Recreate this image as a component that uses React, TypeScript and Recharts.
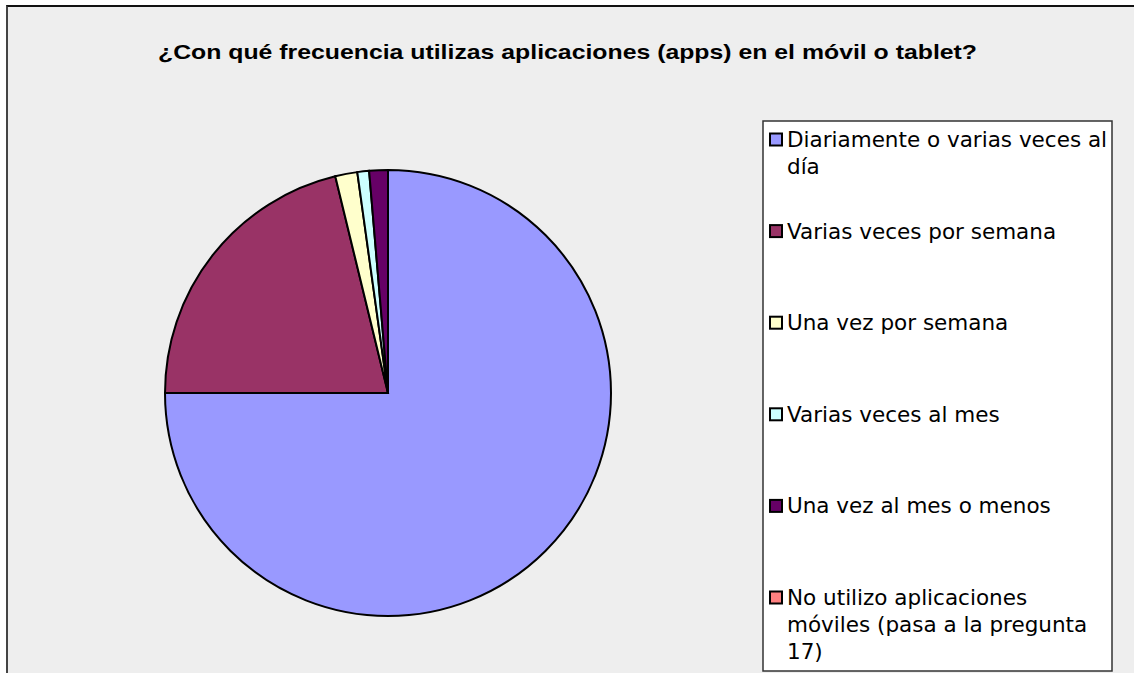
import React from 'react';
import { PieChart, Pie, Cell, Legend } from 'recharts';

const title = '¿Con qué frecuencia utilizas aplicaciones (apps) en el móvil o tablet?';
const categories = [
  'Diariamente o varias veces al día',
  'Varias veces por semana',
  'Una vez por semana',
  'Varias veces al mes',
  'Una vez al mes o menos',
  'No utilizo aplicaciones móviles (pasa a la pregunta 17)',
];
const values = [75, 21.2, 1.6, 0.85, 1.35, 0];
const colors = ['#9999FF', '#993366', '#FFFFCC', '#CCFFFF', '#660066', '#FF8080'];
const legendLines = [
  ['Diariamente o varias veces al', 'día'],
  ['Varias veces por semana'],
  ['Una vez por semana'],
  ['Varias veces al mes'],
  ['Una vez al mes o menos'],
  ['No utilizo aplicaciones', 'móviles (pasa a la pregunta', '17)'],
];

const data = categories.map((name, i) => ({ name, value: values[i] }));

const LegendBox = () => (
  <svg width={352} height={553} style={{ display: 'block' }}>
    <rect x={1} y={1} width={349} height={550} fill="#FFFFFF" stroke="#333333" strokeWidth={1.5} />
    {legendLines.map((lines, i) => {
      const base = 27 + i * 91.6;
      return (
        <g key={i}>
          <rect x={8} y={base - 13.5} width={12} height={12} fill={colors[i]} stroke="#000" strokeWidth={2} />
          {lines.map((ln, j) => (
            <text
              key={j}
              x={25}
              y={base + j * 27}
              fontFamily="DejaVu Sans"
              fontSize={21.5}
              fill="#000"
            >
              {ln}
            </text>
          ))}
        </g>
      );
    })}
  </svg>
);

export default function App() {
  return (
    <div style={{ position: 'absolute', left: 0, top: 0, width: 1134, height: 673, background: '#FFFFFF', overflow: 'hidden' }}>
      <div
        style={{
          position: 'absolute',
          left: 6,
          top: 5,
          width: 1140,
          height: 680,
          background: '#EEEEEE',
          borderTop: '2px solid #111111',
          borderLeft: '2px solid #444444',
        }}
      />
      <svg width={1134} height={80} style={{ position: 'absolute', left: 0, top: 0 }}>
        <text
          x={158}
          y={59}
          fontFamily="Liberation Sans"
          fontWeight="bold"
          fontSize={20.5}
          textLength={819}
          lengthAdjust="spacingAndGlyphs"
          fill="#000"
        >
          {title}
        </text>
      </svg>
      <div style={{ position: 'absolute', left: 0, top: 0 }}>
        <PieChart width={1134} height={673} margin={{ top: 0, right: 0, bottom: 0, left: 0 }}>
          <Pie
            data={data}
            dataKey="value"
            nameKey="name"
            cx={388}
            cy={393}
            outerRadius={223}
            startAngle={90}
            endAngle={-270}
            isAnimationActive={false}
            stroke="#000000"
            strokeWidth={2}
          >
            {data.map((d, i) => (
              <Cell key={i} fill={colors[i]} stroke={d.value > 0 ? '#000000' : 'none'} />
            ))}
          </Pie>
          <Legend
            content={() => <LegendBox />}
            wrapperStyle={{ position: 'absolute', left: 762, top: 120, width: 352, height: 553 }}
          />
        </PieChart>
      </div>
    </div>
  );
}
